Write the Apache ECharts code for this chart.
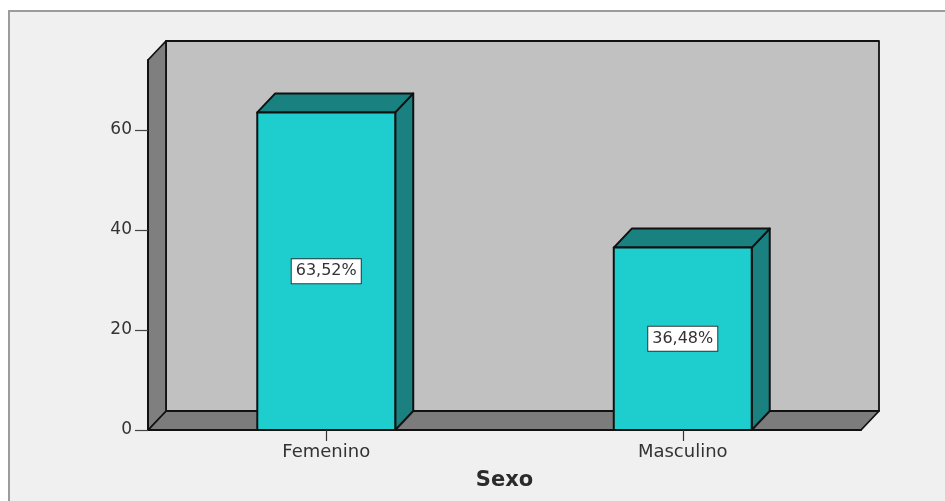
<!DOCTYPE html>
<html>
<head>
<meta charset="utf-8">
<script src="https://cdn.jsdelivr.net/npm/echarts@6/dist/echarts.min.js"></script>
<style>
  html, body { margin: 0; padding: 0; background: #ffffff; }
  #chart { width: 945px; height: 501px; }
</style>
</head>
<body>
<div id="chart"></div>
<script>
// Distribución por sexo (porcentaje)
const categories = ['Femenino', 'Masculino'];
const percentages = [63.52, 36.48];
const yTicks = [0, 20, 40, 60];
const yMax = 74;

// Depth of the pseudo-3D projection (pixels)
const DX = 18;
const DY = 19;

const FONT = 'DejaVu Sans';
const EDGE = '#111111';

function fmtPct(v) {
  return v.toFixed(2).replace('.', ',') + '%';
}

// Back wall, floor and side wall of the box around the plot
function renderBox(params, api) {
  const cs = params.coordSys;
  const left = cs.x;
  const right = cs.x + cs.width;
  const top = api.coord([0, yMax])[1];
  const bottom = api.coord([0, 0])[1];
  const line = { stroke: EDGE, lineWidth: 1.8, lineJoin: 'round' };
  return {
    type: 'group',
    children: [
      {
        type: 'polygon',
        shape: { points: [[left + DX, top - DY], [right + DX, top - DY], [right + DX, bottom - DY], [left + DX, bottom - DY]] },
        style: Object.assign({ fill: '#c1c1c1' }, line)
      },
      {
        type: 'polygon',
        shape: { points: [[left, bottom], [right, bottom], [right + DX, bottom - DY], [left + DX, bottom - DY]] },
        style: Object.assign({ fill: '#7c7c7c' }, line)
      },
      {
        type: 'polygon',
        shape: { points: [[left, top], [left + DX, top - DY], [left + DX, bottom - DY], [left, bottom]] },
        style: Object.assign({ fill: '#7f7f7f' }, line)
      }
    ]
  };
}

// One extruded bar with its percentage tag on the front face
function renderBar(params, api) {
  const idx = api.value(0);
  const val = api.value(1);
  const topPt = api.coord([idx, val]);
  const basePt = api.coord([idx, 0]);
  const midPt = api.coord([idx, val / 2]);
  const w = api.size([1, 0])[0] * 0.387;
  const xl = topPt[0] - w / 2;
  const xr = topPt[0] + w / 2;
  const yt = topPt[1];
  const yb = basePt[1];
  const line = { stroke: EDGE, lineWidth: 2, lineJoin: 'round' };
  return {
    type: 'group',
    children: [
      {
        type: 'polygon',
        shape: { points: [[xr, yt], [xr + DX, yt - DY], [xr + DX, yb - DY], [xr, yb]] },
        style: Object.assign({ fill: '#1a8080' }, line)
      },
      {
        type: 'polygon',
        shape: { points: [[xl, yt], [xr, yt], [xr + DX, yt - DY], [xl + DX, yt - DY]] },
        style: Object.assign({ fill: '#1a8181' }, line)
      },
      {
        type: 'rect',
        shape: { x: xl, y: yt, width: w, height: yb - yt },
        style: Object.assign({ fill: '#1ecdcd' }, line)
      },
      {
        type: 'text',
        x: midPt[0],
        y: midPt[1],
        style: {
          text: fmtPct(val),
          align: 'center',
          verticalAlign: 'middle',
          fontFamily: FONT,
          fontSize: 16,
          fill: '#333333',
          backgroundColor: '#ffffff',
          borderColor: '#2a3a3a',
          borderWidth: 1,
          padding: [4, 4, 4, 4]
        }
      }
    ]
  };
}

const chart = echarts.init(document.getElementById('chart'), null, { renderer: 'canvas' });

chart.setOption({
  backgroundColor: '#ffffff',
  animation: false,
  graphic: [
    {
      type: 'rect',
      z: -10,
      shape: { x: 9, y: 11, width: 960, height: 520 },
      style: { fill: '#f0f0f0', stroke: '#9c9c9c', lineWidth: 2 }
    }
  ],
  grid: { left: 148, right: 84, top: 60, bottom: 71, outerBoundsMode: 'none', containLabel: false },
  xAxis: {
    type: 'category',
    data: categories,
    name: 'Sexo',
    nameLocation: 'middle',
    nameGap: 40,
    nameTextStyle: { fontFamily: FONT, fontSize: 21, fontWeight: 'bold', color: '#2b2b2b' },
    axisLine: { show: true, lineStyle: { color: EDGE, width: 1.8 } },
    axisTick: { show: true, alignWithLabel: true, length: 11, lineStyle: { color: '#333333', width: 1.2 } },
    axisLabel: { fontFamily: FONT, fontSize: 18, color: '#333333', margin: 13 },
    splitLine: { show: false },
    z: 5
  },
  yAxis: {
    type: 'value',
    min: 0,
    max: yMax,
    interval: 20,
    axisLine: { show: true, lineStyle: { color: EDGE, width: 1.8 } },
    axisTick: { show: true, length: 13, customValues: yTicks, lineStyle: { color: '#444444', width: 1.2 } },
    axisLabel: { fontFamily: FONT, fontSize: 17, color: '#333333', margin: 16, customValues: yTicks },
    splitLine: { show: false },
    z: 5
  },
  series: [
    {
      type: 'custom',
      name: 'caja',
      renderItem: renderBox,
      data: [[0, 0]],
      silent: true,
      z: 1
    },
    {
      type: 'custom',
      name: 'Porcentaje',
      renderItem: renderBar,
      encode: { x: 0, y: 1 },
      data: categories.map((c, i) => [i, percentages[i]]),
      z: 3
    }
  ]
});
</script>
</body>
</html>
